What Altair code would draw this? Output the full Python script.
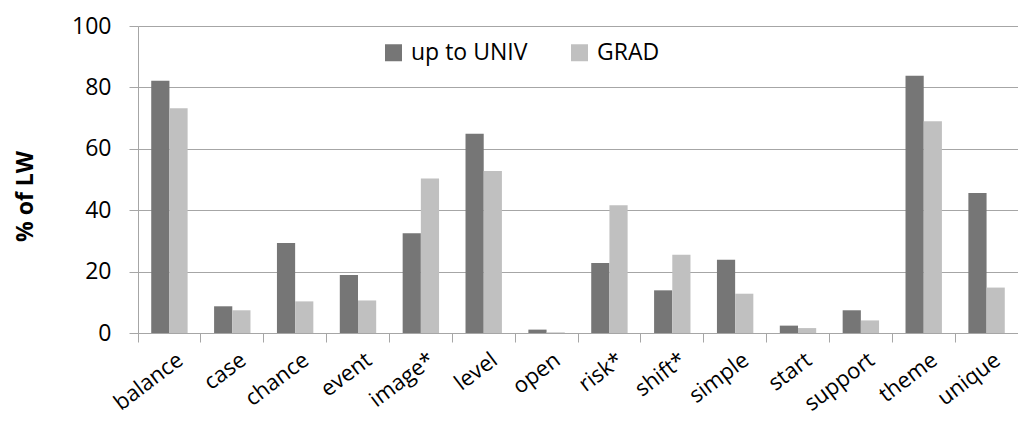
import altair as alt
import pandas as pd

words = ["balance", "case", "chance", "event", "image*", "level", "open",
         "risk*", "shift*", "simple", "start", "support", "theme", "unique"]
up_to_univ = [82.2, 8.7, 29.3, 18.9, 32.5, 64.9, 1.1, 22.8, 13.9, 23.9, 2.4, 7.4, 83.8, 45.6]
grad = [73.2, 7.4, 10.3, 10.6, 50.3, 52.8, 0.2, 41.6, 25.5, 12.8, 1.6, 4.1, 69.0, 14.8]
series = ["up to UNIV", "GRAD"]
colors = ["#767676", "#c0c0c0"]
y_ticks = [0, 20, 40, 60, 80, 100]

rows = []
for w, a, b in zip(words, up_to_univ, grad):
    rows.append({"word": w, "series": series[0], "value": a})
    rows.append({"word": w, "series": series[1], "value": b})
df = pd.DataFrame(rows)

FONT = "Open Sans"
GRID = "#a6a6a6"

chart = alt.Chart(df).mark_bar().encode(
    x=alt.X(
        "word:N", sort=words,
        scale=alt.Scale(paddingInner=0, paddingOuter=0),
        axis=alt.Axis(
            title=None, bandPosition=0, labelOffset=5, labelAngle=-37,
            labelAlign="right", labelBaseline="top", labelPadding=7,
            tickSize=9, labelFontSize=22, labelFont=FONT, labelColor="black",
            labelOverlap=False, domainColor=GRID, tickColor=GRID, grid=False,
        ),
    ),
    xOffset=alt.XOffset("series:N", sort=series,
                        scale=alt.Scale(paddingInner=0, paddingOuter=0.727)),
    y=alt.Y(
        "value:Q",
        scale=alt.Scale(domain=[0, 100], nice=False),
        axis=alt.Axis(
            values=y_ticks, title="% of LW", titleFontSize=23, titleFont=FONT,
            titleFontWeight="bold", titleColor="black", titleAngle=-90,
            titleX=-113, titleY=170, titleAlign="center", titleBaseline="middle",
            labelFontSize=23, labelFont=FONT, labelColor="black", labelPadding=18,
            tickSize=9, domainColor=GRID, tickColor=GRID, gridColor=GRID,
            grid=True,
        ),
    ),
    color=alt.Color(
        "series:N", sort=series,
        scale=alt.Scale(domain=series, range=colors),
        legend=alt.Legend(
            title=None, orient="none", legendX=244, legendY=15,
            direction="horizontal", symbolType="square", symbolSize=289,
            symbolStrokeWidth=0, labelFontSize=23, labelFont=FONT,
            labelColor="black", labelOffset=6, columnPadding=40, padding=0,
        ),
    ),
).properties(
    width=880, height=307,
    autosize=alt.AutoSizeParams(type="none"),
    padding={"left": 130, "top": 18, "right": 0, "bottom": 83},
).configure_view(stroke=None).configure(font=FONT)

chart.save("out.html", embed_options={"renderer": "svg", "actions": False})
